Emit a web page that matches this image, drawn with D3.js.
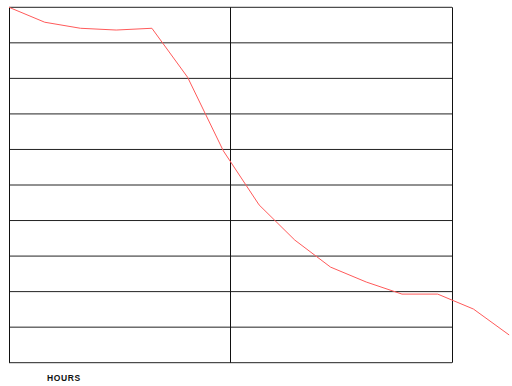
<!DOCTYPE html>
<html>
<head>
<meta charset="utf-8">
<script src="https://cdn.jsdelivr.net/npm/d3@7"></script>
<style>
  body { margin: 0; background: #fff; }
  svg { display: block; }
</style>
</head>
<body>
<svg id="chart"></svg>
<script>
// Data
const hours = [0, 1, 2, 3, 4, 5, 6, 7, 8, 9, 10, 11, 12, 13, 14];
const values = [100, 95.8, 94.1, 93.6, 94.1, 80.3, 59.6, 44.4, 34.5, 26.9, 22.7, 19.3, 19.3, 15.1, 7.8];
const xGrid = [0, 6.2, 12.4];
const yGrid = d3.range(0, 101, 10);
const xLabel = 'HOURS';

// Set dimensions
const width = 512;
const height = 386;
const margin = { top: 7.3, left: 9, right: 60, bottom: 23.3 };

const svg = d3.select('#chart')
    .attr('width', width)
    .attr('height', height);

const x = d3.scaleLinear()
    .domain([0, 12.4])
    .range([margin.left, width - margin.right]);

const y = d3.scaleLinear()
    .domain([0, 100])
    .range([height - margin.bottom, margin.top]);

// Horizontal grid lines
svg.append('g')
  .selectAll('line')
  .data(yGrid)
  .enter()
  .append('line')
    .attr('x1', x(0))
    .attr('x2', x(12.4))
    .attr('y1', d => y(d))
    .attr('y2', d => y(d))
    .attr('stroke', '#222')
    .attr('stroke-width', 1);

// Vertical grid lines
svg.append('g')
  .selectAll('line')
  .data(xGrid)
  .enter()
  .append('line')
    .attr('x1', d => Math.floor(x(d)) + 0.5)
    .attr('x2', d => Math.floor(x(d)) + 0.5)
    .attr('y1', y(100))
    .attr('y2', y(0))
    .attr('stroke', '#111')
    .attr('stroke-width', 1);

// The line
const line = d3.line()
    .x((d, i) => x(hours[i]))
    .y(d => y(d));

svg.append('path')
    .datum(values)
    .attr('d', line)
    .attr('fill', 'none')
    .attr('stroke', '#ff5a5a')
    .attr('stroke-width', 1);

// Axis label
svg.append('text')
    .attr('x', 47)
    .attr('y', 381)
    .attr('font-family', 'Liberation Sans, Arial, sans-serif')
    .attr('font-size', '8.5px')
    .attr('font-weight', 'bold')
    .attr('letter-spacing', '0.6px')
    .attr('fill', '#111')
    .text(xLabel);
</script>
</body>
</html>
